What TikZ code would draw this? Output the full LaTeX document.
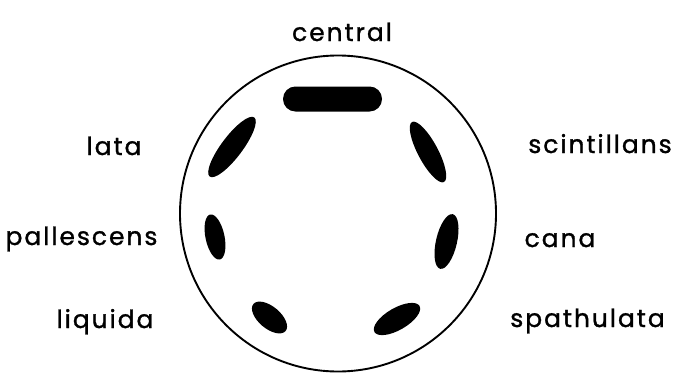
\documentclass[tikz,border=0pt]{standalone}
\usepackage{fontspec}
\newfontfamily\lblfont[LetterSpace=8, FakeBold=1.2]{Poppins}

\begin{document}
\begin{tikzpicture}[x=1bp, y=1bp,
    lbl/.style={anchor=base, inner sep=0pt,
                font=\lblfont\fontsize{25}{29}\selectfont}]
  \useasboundingbox (0,0) rectangle (689,374);
  %--- outer ring ---
  \draw[line width=1.9] (338,160.5) circle (158);
  %--- top blob (central) ---
  \fill[rounded corners=12.5] (283,262.5) rectangle (382,287.5);
  %--- other blobs: centre / angle / half axes ---
  \foreach \cx/\cy/\ang/\ra/\rb in {232/227/53/37/10.5,
                                    428/222/-62/34/10,
                                    215/137/102/23/9.5,
                                    446.5/132.5/77/28/10.5,
                                    269.5/56.5/-40/21/11,
                                    397/55/30/26/11} {
    \fill[shift={(\cx,\cy)}, rotate=\ang] (0,0) ellipse [x radius=\ra, y radius=\rb];
  }
  %--- labels ---
  \node[lbl] (central)     at (342,333)   {central};
  \node[lbl] (lata)        at (114,219)   {lata};
  \node[lbl] (scintillans) at (600,221)   {scintillans};
  \node[lbl] (pallescens)  at (81.5,129)  {pallescens};
  \node[lbl] (cana)        at (560,127)   {cana};
  \node[lbl] (liquida)     at (105,46)    {liquida};
  \node[lbl] (spathulata)  at (587.5,47)  {spathulata};
\end{tikzpicture}
\end{document}
